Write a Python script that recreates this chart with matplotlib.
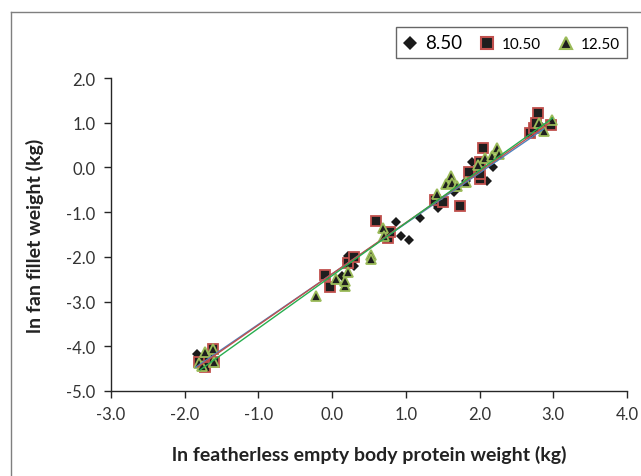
import matplotlib
matplotlib.use('Agg')
import matplotlib.pyplot as plt
from matplotlib.lines import Line2D
import numpy as np

plt.rcParams['font.family'] = ['Lato', 'DejaVu Sans']

# series 8.50 (diamonds)
x_850 = [-1.84, -1.78, -1.70, -1.62, 0.13, 0.22, 0.30, 0.20, 0.76, 0.86, 0.93, 1.04,
         1.19, 1.40, 1.44, 1.65, 1.81, 1.90, 1.97, 2.10, 2.18, 2.73, 2.85]
y_850 = [-4.17, -4.40, -4.30, -4.15, -2.42, -1.99, -2.20, -2.10, -1.56, -1.21, -1.53, -1.63,
         -1.14, -0.80, -0.91, -0.56, -0.30, 0.13, -0.19, -0.30, 0.02, 0.82, 0.90]

# series 10.50 (squares)
x_1050 = [-1.81, -1.72, -1.62, -1.60, -0.10, -0.03, 0.21, 0.30, 0.60, 0.76, 0.79, 1.40,
          1.50, 1.74, 1.85, 2.00, 2.01, 2.05, 2.00, 2.69, 2.74, 2.79, 2.77, 2.97]
y_1050 = [-4.36, -4.46, -4.06, -4.36, -2.40, -2.68, -2.13, -2.01, -1.19, -1.57, -1.45, -0.73,
          -0.77, -0.87, -0.11, 0.13, -0.25, 0.43, -0.15, 0.78, 0.89, 1.22, 1.00, 0.95]

# series 12.50 (triangles)
x_1250 = [-1.81, -1.72, -1.62, -1.60, -1.76, -0.22, 0.05, 0.17, 0.17, 0.21, 0.53, 0.53,
          0.69, 0.70, 1.42, 1.54, 1.61, 1.63, 1.70, 1.82, 1.98, 2.08, 2.17, 2.24, 2.26,
          2.81, 2.87, 2.98]
y_1250 = [-4.38, -4.12, -4.06, -4.36, -4.45, -2.87, -2.50, -2.65, -2.54, -2.33, -1.96, -2.04,
          -1.36, -1.54, -0.60, -0.37, -0.20, -0.34, -0.41, -0.32, 0.06, 0.21, 0.26, 0.43, 0.30,
          0.99, 0.81, 1.06]

# trendlines: slope, intercept, x range
trend_850 = (1.129, -2.38, -1.85, 2.87)
trend_1050 = (1.145, -2.38, -1.82, 2.95)
trend_1250 = (1.178, -2.42, -1.79, 2.99)

fig = plt.figure(figsize=(6.41, 4.77), dpi=100)
ax = fig.add_axes([111/641, 1-392/477, (627-111)/641, (392-79)/477])

ax.plot(x_850, y_850, 'D', color='#1a1a1a', markersize=5.5, markeredgewidth=0, zorder=3)
ax.plot(x_1050, y_1050, 's', markerfacecolor='#1e1e1e', markeredgecolor='#c0504d',
        markersize=7.0, markeredgewidth=1.3, zorder=3)
ax.plot(x_1250, y_1250, '^', markerfacecolor='#1e1e1e', markeredgecolor='#9bbb59',
        markersize=7.5, markeredgewidth=1.3, zorder=3)

for tr, c in [(trend_850, '#4f81bd'), (trend_1050, '#c0504d'), (trend_1250, '#27ae4f')]:
    m, b, x0, x1 = tr
    xs = np.array([x0, x1])
    ax.plot(xs, m*xs + b, color=c, lw=1.0, zorder=4)

ax.set_xlim(-3, 4)
ax.set_ylim(-5, 2)
ax.set_xticks(np.arange(-3, 4.1, 1))
ax.set_yticks(np.arange(-5, 2.1, 1))
ax.set_xticklabels(['%.1f' % v for v in np.arange(-3, 4.1, 1)])
ax.set_yticklabels(['%.1f' % v for v in np.arange(-5, 2.1, 1)])
for s in ['top', 'right']:
    ax.spines[s].set_visible(False)
for s in ['left', 'bottom']:
    ax.spines[s].set_color('#262626')
    ax.spines[s].set_linewidth(1.0)
ax.tick_params(direction='out', length=5, width=1, color='#262626',
               labelsize=12, labelcolor='#333333', pad=6)

ax.set_xlabel('ln featherless empty body protein weight (kg)', fontsize=14,
              fontweight='bold', color='#222222', labelpad=16)
ax.set_ylabel('ln fan fillet weight (kg)', fontsize=14, fontweight='bold',
              color='#222222', labelpad=16)

handles = [
    Line2D([], [], marker='D', ls='', color='#1a1a1a', markersize=7, markeredgewidth=0),
    Line2D([], [], marker='s', ls='', markerfacecolor='#1e1e1e', markeredgecolor='#c0504d',
           markersize=9, markeredgewidth=1.5),
    Line2D([], [], marker='^', ls='', markerfacecolor='#1e1e1e', markeredgecolor='#9bbb59',
           markersize=9, markeredgewidth=1.5),
]
leg = ax.legend(handles, ['8.50', '10.50', '12.50'], ncol=3, loc='upper right',
                bbox_to_anchor=(627/641, 1-28/477), bbox_transform=fig.transFigure,
                borderaxespad=0, fancybox=False, frameon=True, handlelength=1.0,
                handletextpad=0.5, columnspacing=1.1, borderpad=0.45, fontsize=11)
leg.get_frame().set_edgecolor('#404040')
leg.get_frame().set_linewidth(1.0)
leg.get_texts()[0].set_fontsize(13.5)

# outer chart frame (only left and top edges visible)
fig.add_artist(Line2D([11/641, 11/641], [0, 1-13/477], color='#7f7f7f', lw=1.0,
                      transform=fig.transFigure))
fig.add_artist(Line2D([11/641, 1], [1-13/477, 1-13/477], color='#7f7f7f', lw=1.0,
                      transform=fig.transFigure))

fig.savefig('out.png', dpi=100)
